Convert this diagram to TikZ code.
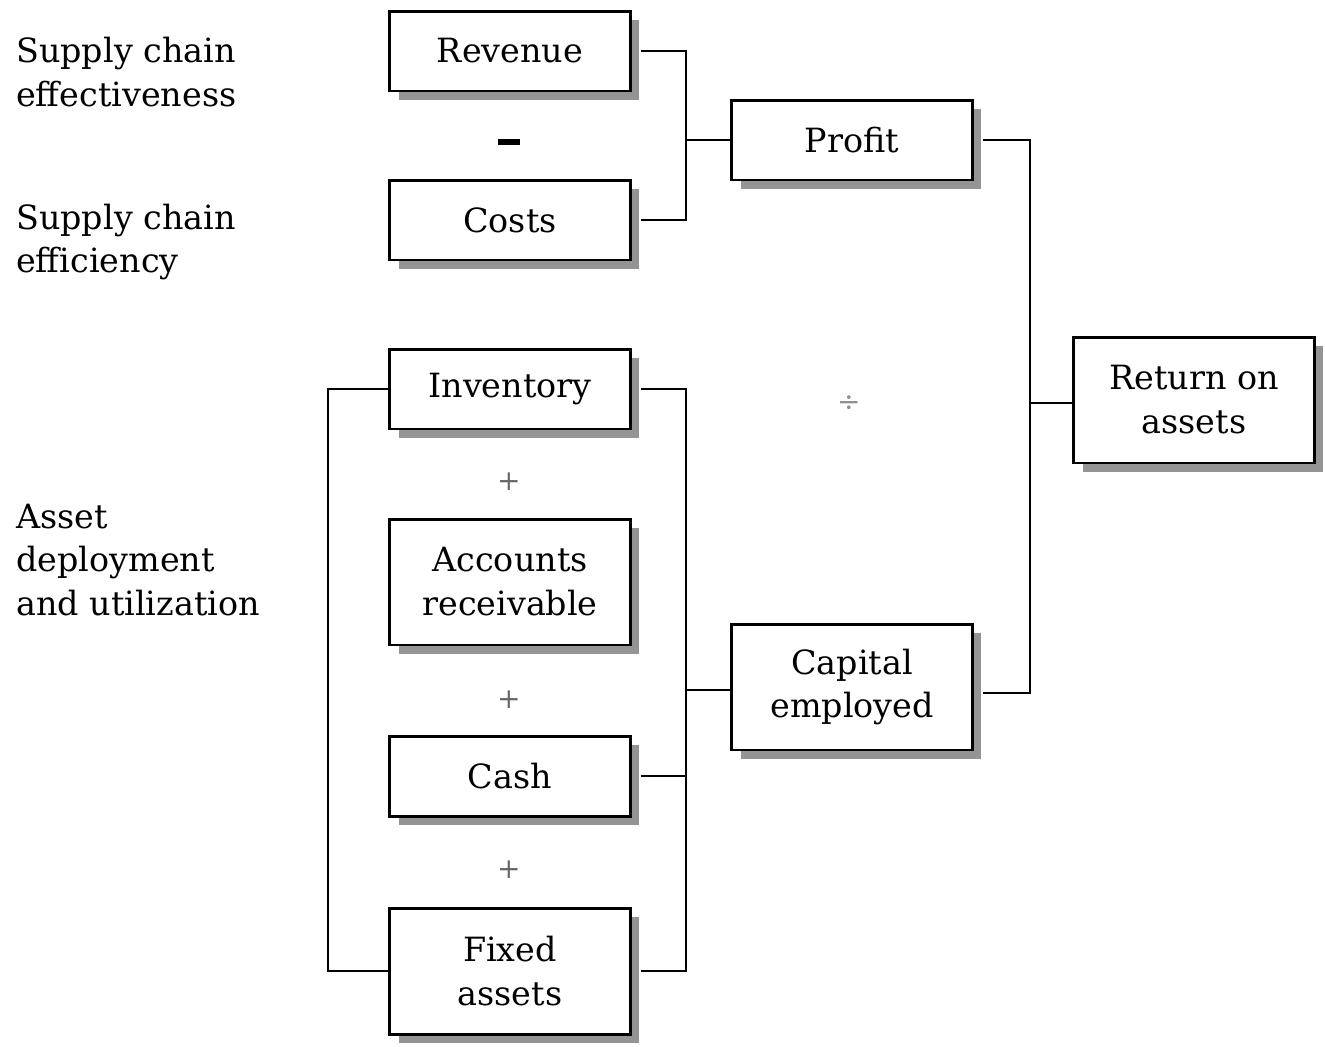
\documentclass[tikz,border=0pt]{standalone}
\usepackage{fontspec}
\setmainfont{DejaVu Serif}
\usetikzlibrary{positioning, shadows}

\begin{document}
\begin{tikzpicture}[x=0.02cm, y=-0.02cm, line width=1.4pt,
  box/.style={draw, line width=1.7pt, fill=white, minimum width=4.82cm,
    minimum height=1.6cm, align=center, inner sep=0pt,
    font=\fontsize{19}{25}\selectfont,
    drop shadow={shadow xshift=0.18cm, shadow yshift=-0.18cm, opacity=1, fill=black!42}},
  tall/.style={minimum height=2.52cm},
  side/.style={anchor=west, align=left, font=\fontsize{19}{25}\selectfont, inner sep=0pt},
  op/.style={text=black!60, font=\fontsize{16}{16}\selectfont}]

\useasboundingbox (0,0) rectangle (1325,1046);

% Left side labels
\node[side] (effect) at (15,72) {Supply chain\\effectiveness};
\node[side] (effic) at (15,242) {Supply chain\\efficiency};
\node[side] (asset) at (15,560) {Asset\\deployment\\and utilization};

% Profit branch
\node[box] (rev) at (510,51) {Revenue};
\node[box] (cost) at (510,220) {Costs};
\node (minus) at (509,142) {\rule{0.44cm}{0.12cm}};
\node[box] (profit) at (852,140) {Profit};

% Asset branch
\node[box] (inv) at (510,389) {Inventory};
\node[op] (plusa) at (509,482) {+};
\node[box, tall] (ar) at (510,582) {Accounts\\receivable};
\node[op] (plusb) at (509,700) {+};
\node[box] (cash) at (510,776) {Cash};
\node[op] (plusc) at (509,870) {+};
\node[box, tall] (fixed) at (510,971) {Fixed\\assets};
\node[box, tall] (capital) at (852,687) {Capital\\employed};

% Result
\node[op, text=black!45] (divide) at (849,404) {÷};
\node[box, tall] (roa) at (1194,400) {Return on\\assets};

% Junctions
\coordinate (jtop) at (686,140);
\coordinate (jcap) at (686,690);
\coordinate (jroa) at (1030,403);
\coordinate (lbr) at (328,680);

% Connectors
\draw ([xshift=0.18cm]rev.east) -| (jtop);
\draw ([xshift=0.18cm]cost.east) -| (jtop);
\draw (jtop) -- (profit.west);

\draw ([xshift=0.18cm]inv.east) -| (jcap);
\draw ([xshift=0.18cm]cash.east) -| (jcap);
\draw ([xshift=0.18cm]fixed.east) -| (jcap);
\draw (jcap) -- (jcap -| capital.west);
\draw (inv.west) -| (lbr) |- (fixed.west);

\draw ([xshift=0.18cm]profit.east) -| (jroa);
\draw ([xshift=0.18cm, yshift=-0.12cm]capital.east) -| (jroa);
\draw (jroa) -- (jroa -| roa.west);

\end{tikzpicture}
\end{document}
